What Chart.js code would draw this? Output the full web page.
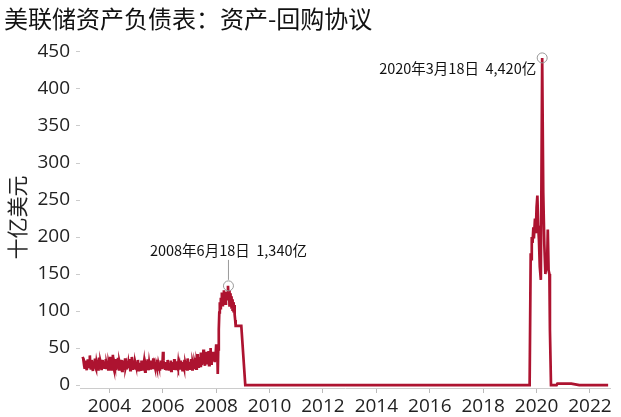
<!DOCTYPE html>
<html>
<head>
<meta charset="utf-8">
<script src="https://cdn.jsdelivr.net/npm/chart.js@4/dist/chart.umd.min.js"></script>
<style>
  body { margin: 0; background: #fff; }
</style>
</head>
<body>
<canvas id="repoChart" width="621" height="417"></canvas>
<script>
// Fed balance sheet: repurchase agreements, billions of USD
// weekly readings from the start of 2003 to end of 2008
const weeklyStart = 2003.0;
const y2003 = [38,36,31,26,22,28,33,24,20,27,35,29,23,31,40,26,21,30,34,25,19,28,32,27,36,24,22,30,26,33,21,29,37,25,23,31,28,20,34,27,24,32,26,22,30,35,23,28,25,33,21,29];
const y2004 = [26,31,38,24,21,33,29,41,25,22,30,27,35,20,28,32,24,37,26,21,31,28,23,34,27,19,30,25,33,22,29,36,24,27,21,32,26,30,23,35,28,20,31,25,38,22,27,33,24,29,21,30];
const y2005 = [27,22,31,25,34,20,28,24,30,19,26,33,23,29,21,27,32,24,18,28,25,31,22,35,26,20,29,24,33,21,27,30,23,26,36,22,28,25,31,20,27,24,34,22,29,26,21,30,25,33,23,28];
const y2006 = [30,45,33,24,28,22,31,26,20,29,34,23,27,21,30,25,33,19,28,24,31,22,26,35,23,29,20,27,32,24,22,30,25,28,21,33,26,23,29,20,31,27,24,34,22,28,25,30,21,36,26,29];
const y2007 = [24,31,22,28,35,25,21,30,27,33,23,29,26,37,22,31,28,42,25,33,29,38,26,44,31,27,40,34,48,29,36,26,45,33,28,41,30,37,46,27,35,31,50,29,40,34,38,45,36,42,31,39];
const y2008 = [44,55,40,50,15,48,75,98,112,104,118,110,125,108,120,112,128,115,124,110,126,118,122,116,134,116,128,106,124,108,120,103,116,100,112,98,108,95,88,80,80,80,80,80,80,80,80,80,80,80,80];

// later readings (decimal year, value)
const laterDates  = [2009.09, 2019.74, 2019.78, 2019.80, 2019.82, 2019.85, 2019.88, 2019.90, 2019.94, 2019.97, 2020.00, 2020.03, 2020.06, 2020.09, 2020.12, 2020.16, 2020.21, 2020.25, 2020.29, 2020.33, 2020.36, 2020.39, 2020.42, 2020.45, 2020.48, 2020.50, 2020.54, 2020.75, 2020.78, 2021.30, 2021.60, 2022.68];
const laterValues = [0, 0, 178, 170, 200, 192, 213, 198, 225, 205, 240, 256, 215, 195, 160, 142, 442, 260, 190, 150, 162, 155, 210, 155, 150, 75, 0, 0, 2, 2, 0, 0];

const xTickYears = [2004, 2006, 2008, 2010, 2012, 2014, 2016, 2018, 2020, 2022];
const yTickValues = [0, 50, 100, 150, 200, 250, 300, 350, 400, 450];

const annoDates  = [2008.46, 2020.21];
const annoValues = [134, 442];
const annoLabels = ['2008年6月18日  1,340亿', '2020年3月18日  4,420亿'];

const weekly = [].concat(y2003, y2004, y2005, y2006, y2007, y2008);
const points = weekly.map((v, i) => ({ x: weeklyStart + i * 7 / 365.25, y: v }));
laterDates.forEach((d, i) => points.push({ x: d, y: laterValues[i] }));

const lineColor = '#ad1330';

const annotationPlugin = {
  id: 'peaks',
  afterDatasetsDraw(chart) {
    const { ctx, scales: { x, y } } = chart;
    ctx.save();
    ctx.font = '14.5px "Noto Sans CJK SC"';
    ctx.fillStyle = '#111';
    annoDates.forEach((d, i) => {
      const px = x.getPixelForValue(d);
      const py = y.getPixelForValue(annoValues[i]);
      ctx.strokeStyle = '#999';
      ctx.lineWidth = 1;
      ctx.beginPath();
      ctx.arc(px, py, 5, 0, Math.PI * 2);
      ctx.stroke();
      if (i === 0) {
        // label above with leader line
        ctx.beginPath();
        ctx.moveTo(px, py - 6);
        ctx.lineTo(px, py - 26);
        ctx.stroke();
        ctx.textAlign = 'center';
        ctx.textBaseline = 'middle';
        ctx.fillText(annoLabels[i], px, py - 35);
      } else {
        ctx.textAlign = 'right';
        ctx.textBaseline = 'middle';
        ctx.fillText(annoLabels[i], px - 6, py + 11);
      }
    });
    ctx.restore();
  }
};

new Chart(document.getElementById('repoChart'), {
  type: 'line',
  data: {
    datasets: [{
      data: points,
      borderColor: lineColor,
      borderWidth: 2.7,
      pointRadius: 0,
      tension: 0,
      fill: false
    }]
  },
  options: {
    responsive: false,
    animation: false,
    layout: { padding: { left: 4, right: 11, top: 4, bottom: 0 } },
    plugins: {
      legend: { display: false },
      tooltip: { enabled: false },
      title: {
        display: true,
        text: '美联储资产负债表：资产-回购协议',
        align: 'start',
        color: '#111',
        font: { family: '"Noto Sans CJK SC"', size: 24, weight: 'normal' },
        padding: { top: 0, bottom: 14 }
      }
    },
    scales: {
      x: {
        type: 'linear',
        min: 2002.9,
        max: 2022.75,
        afterBuildTicks: s => { s.ticks = xTickYears.map(v => ({ value: v })); },
        afterFit: s => { s.height = 29; },
        ticks: {
          autoSkip: false,
          maxRotation: 0,
          padding: 2,
          color: '#222',
          font: { family: '"Open Sans"', size: 19 },
          callback: v => String(v)
        },
        grid: { drawOnChartArea: false, tickLength: 5, color: '#bbb' },
        border: { color: '#ccc' }
      },
      y: {
        min: -4,
        max: 457,
        afterBuildTicks: s => { s.ticks = yTickValues.map(v => ({ value: v })); },
        afterFit: s => { s.width = 76; },
        ticks: {
          padding: 6,
          color: '#222',
          font: { family: '"Open Sans"', size: 19 }
        },
        title: {
          display: true,
          text: '十亿美元',
          color: '#222',
          font: { family: '"Noto Sans CJK SC"', size: 21 },
          padding: 0
        },
        grid: { drawOnChartArea: false, tickLength: 4, color: '#ccc' },
        border: { display: false }
      }
    }
  },
  plugins: [annotationPlugin]
});
</script>
</body>
</html>
